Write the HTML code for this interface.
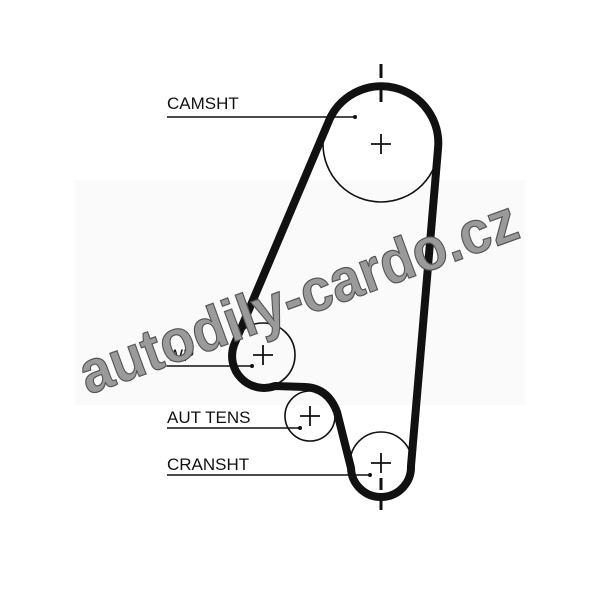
<!DOCTYPE html>
<html><head><style>
html,body{margin:0;padding:0;background:#fff;}
svg{display:block;}
</style></head><body>
<svg width="600" height="589" viewBox="0 0 600 589" xmlns="http://www.w3.org/2000/svg">
<rect width="600" height="589" fill="#fff"/>
<rect x="75" y="180" width="450" height="225" fill="#fafafa"/>
<!-- pulleys -->
<g fill="none" stroke="#111" stroke-width="1.6">
<circle cx="381" cy="144" r="58"/>
<circle cx="263" cy="355" r="32"/>
<circle cx="310" cy="416" r="25"/>
<circle cx="381" cy="463" r="31"/>
</g>
<!-- belt -->
<path d="M 328 123 A 57 57 0 0 1 438 149 L 411 466 A 30 30 0 0 1 351 468 L 337 412 Q 328 388 305 387 L 275 386 A 32 32 0 0 1 234 345 Z" fill="none" stroke="#111" stroke-width="8" stroke-linejoin="round"/>
<!-- crosses -->
<g stroke="#111" stroke-width="1.8">
<path d="M371 144h20M381 134v20"/>
<path d="M253 355h20M263 345v20"/>
<path d="M300 416h20M310 406v20"/>
<path d="M371 463h20M381 453v20"/>
</g>
<!-- center marks -->
<g stroke="#111" stroke-width="3">
<path d="M381 64v14M381 88v14M381 478v12M381 498v12"/>
</g>
<!-- leader lines -->
<g stroke="#111" stroke-width="1.4">
<path d="M167 117H355M167 366H252M167 428H300M167 475H370"/>
</g>
<g fill="#111">
<circle cx="355" cy="117" r="2"/><circle cx="252" cy="366" r="2"/>
<circle cx="300" cy="428" r="2"/><circle cx="370" cy="475" r="2"/>
</g>
<g font-family="Liberation Sans, sans-serif" font-size="17" fill="#111">
<text x="167" y="109">CAMSHT</text>
<text x="167" y="361">WP</text>
<text x="167" y="423">AUT TENS</text>
<text x="167" y="470">CRANSHT</text>
</g>
<!-- watermark -->
<text x="88" y="395" transform="rotate(-20 88 395)" font-family="Liberation Sans, sans-serif" font-weight="bold" font-size="60" fill="#9a9a9a" stroke="#555" stroke-width="1.2" textLength="462" lengthAdjust="spacingAndGlyphs">autodily-cardo.cz</text>
</svg>
</body></html>
